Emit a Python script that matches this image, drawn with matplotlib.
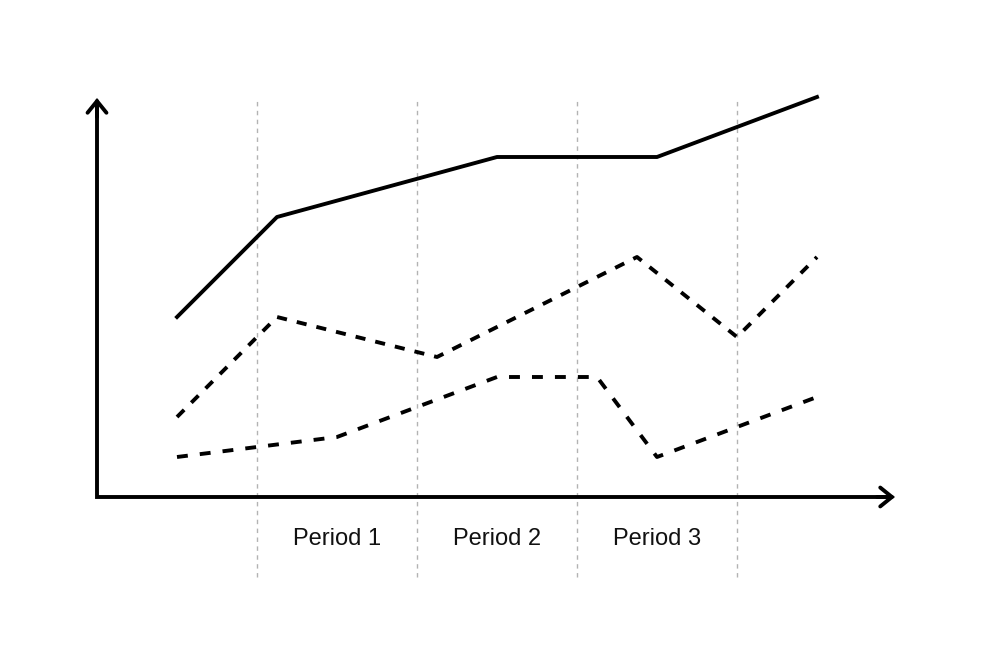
import matplotlib.pyplot as plt
import numpy as np

# data (x in steps, y in units)
solid_x = [4, 9, 20, 28, 36]
solid_y = [9, 14, 17, 17, 20]

dash1_x = [4, 9, 17, 27, 32, 36]
dash1_y = [4, 9, 7, 12, 8, 12]

dash2_x = [4, 12, 20, 25, 28, 36]
dash2_y = [2, 3, 6, 6, 2, 5]

period_edges = [8, 16, 24, 32]
period_labels = ["Period 1", "Period 2", "Period 3"]
period_centers = [12, 20, 28]

plt.rcParams['font.family'] = ['Liberation Sans', 'DejaVu Sans']

fig = plt.figure(figsize=(9.94, 6.6), dpi=100)
ax = fig.add_axes([0, 0, 1, 1])
ax.set_xlim(-97 / 20, (994 - 97) / 20)
ax.set_ylim((497 - 660) / 20, 497 / 20)
ax.axis("off")

lw = 2.8

# period separators
for x in period_edges:
    ax.plot([x, x], [-4, 19.85], color="#b3b3b3", lw=1.0, dashes=(3.2, 3.2))

for x, lab in zip(period_centers, period_labels):
    ax.text(x, -2.1, lab, ha="center", va="center", fontsize=17, color="#111111")

# axes with arrows
ax.plot([0, 0, 39.6], [19.7, 0, 0], color="black", lw=lw,
        solid_joinstyle="miter", solid_capstyle="butt", snap=False)
arrow = dict(arrowstyle="->,head_length=0.42,head_width=0.34", lw=lw,
             color="black", shrinkA=0, shrinkB=0, mutation_scale=20,
             joinstyle="miter")
ax.annotate("", xy=(0, 19.95), xytext=(0, 19.0), arrowprops=arrow)
ax.annotate("", xy=(39.9, 0), xytext=(39.0, 0), arrowprops=arrow)

# series
ax.plot(solid_x, solid_y, color="black", lw=lw)
ax.plot(dash1_x, dash1_y, color="black", lw=lw, dashes=(2.6, 2.6))
ax.plot(dash2_x, dash2_y, color="black", lw=lw, dashes=(2.8, 3.1))

fig.savefig("out.png", dpi=100)
